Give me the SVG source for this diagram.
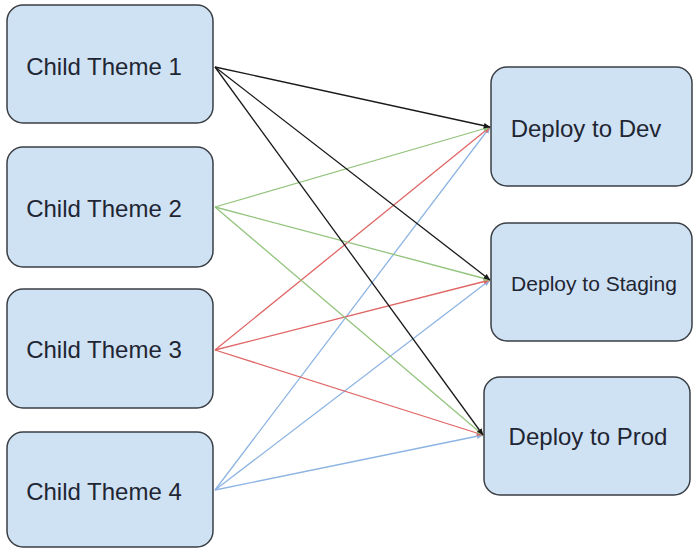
<svg xmlns="http://www.w3.org/2000/svg" width="694" height="549" viewBox="0 0 694 549">
<style>
.node rect{fill:#cfe2f3;stroke:#3a3f45;stroke-width:1.5}
.node text{font-family:"Liberation Sans",Arial,sans-serif;font-size:24px;fill:#1f2633;text-anchor:middle}
.edge{fill:none;stroke-width:1.3}
.k{stroke:#1a1a1a}
.g{stroke:#93c47d}
.r{stroke:#e06666}
.b{stroke:#8db4e2}
</style>
<defs>
<marker id="ak" viewBox="0 0 10 10" refX="9" refY="5" markerWidth="7" markerHeight="7" markerUnits="userSpaceOnUse" orient="auto"><path d="M0,1 L10,5 L0,9 Z" fill="#1a1a1a"/></marker>
<marker id="ag" viewBox="0 0 10 10" refX="9" refY="5" markerWidth="7" markerHeight="7" markerUnits="userSpaceOnUse" orient="auto"><path d="M0,1 L10,5 L0,9 Z" fill="#93c47d"/></marker>
<marker id="ar" viewBox="0 0 10 10" refX="9" refY="5" markerWidth="7" markerHeight="7" markerUnits="userSpaceOnUse" orient="auto"><path d="M0,1 L10,5 L0,9 Z" fill="#e06666"/></marker>
<marker id="ab" viewBox="0 0 10 10" refX="9" refY="5" markerWidth="7" markerHeight="7" markerUnits="userSpaceOnUse" orient="auto"><path d="M0,1 L10,5 L0,9 Z" fill="#8db4e2"/></marker>
</defs>
<rect width="694" height="549" fill="#ffffff"/>
<g id="connectors">
<line class="edge b" x1="215" y1="490" x2="490" y2="127" marker-end="url(#ab)"/>
<line class="edge b" x1="215" y1="490" x2="490" y2="280" marker-end="url(#ab)"/>
<line class="edge b" x1="215" y1="490" x2="483" y2="435" marker-end="url(#ab)"/>
<line class="edge r" x1="215" y1="350" x2="490" y2="127" marker-end="url(#ar)"/>
<line class="edge r" x1="215" y1="350" x2="490" y2="280" marker-end="url(#ar)"/>
<line class="edge r" x1="215" y1="350" x2="483" y2="435" marker-end="url(#ar)"/>
<line class="edge g" x1="215" y1="207" x2="490" y2="127" marker-end="url(#ag)"/>
<line class="edge g" x1="215" y1="207" x2="490" y2="280" marker-end="url(#ag)"/>
<line class="edge g" x1="215" y1="207" x2="483" y2="435" marker-end="url(#ag)"/>
<line class="edge k" x1="215" y1="67" x2="490" y2="127" marker-end="url(#ak)"/>
<line class="edge k" x1="215" y1="67" x2="490" y2="280" marker-end="url(#ak)"/>
<line class="edge k" x1="215" y1="67" x2="483" y2="435" marker-end="url(#ak)"/>
</g>
<g id="child1" class="node"><rect x="7" y="5" width="206" height="118" rx="16"/><text x="104" y="75">Child Theme 1</text></g>
<g id="child2" class="node"><rect x="7" y="147" width="206" height="120" rx="16"/><text x="104" y="217">Child Theme 2</text></g>
<g id="child3" class="node"><rect x="7" y="289" width="206" height="119" rx="16"/><text x="104" y="358">Child Theme 3</text></g>
<g id="child4" class="node"><rect x="7" y="432" width="206" height="115" rx="16"/><text x="104" y="500">Child Theme 4</text></g>
<g id="dev" class="node"><rect x="491" y="67" width="201" height="119" rx="16"/><text x="586" y="137">Deploy to Dev</text></g>
<g id="staging" class="node"><rect x="491" y="223" width="201" height="118" rx="16"/><text x="594" y="291" style="font-size:21px">Deploy to Staging</text></g>
<g id="prod" class="node"><rect x="484" y="377" width="206" height="118" rx="16"/><text x="588" y="445">Deploy to Prod</text></g>
</svg>
